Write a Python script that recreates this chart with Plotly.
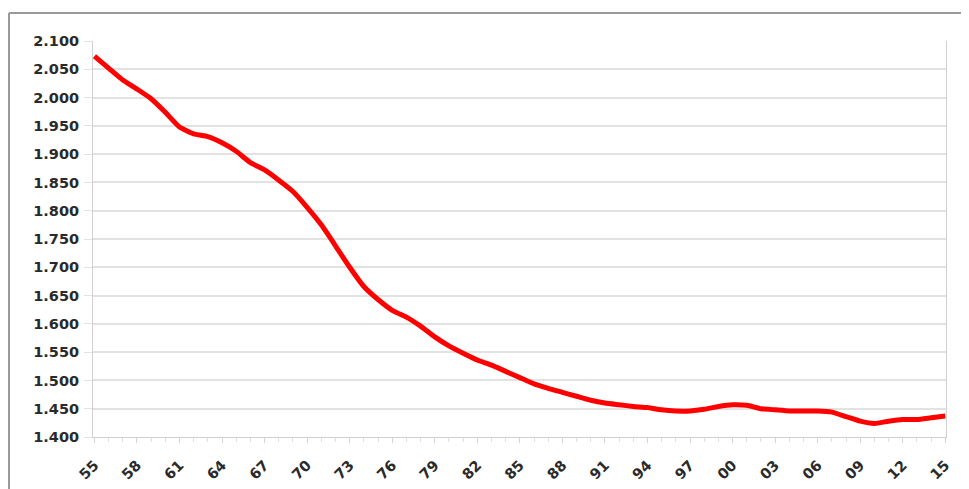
import plotly.graph_objects as go

years = list(range(1955, 2016))
values = [
    2.073, 2.052, 2.031, 2.015, 1.998, 1.974, 1.948, 1.936, 1.931, 1.920,
    1.905, 1.885, 1.872, 1.854, 1.834, 1.806, 1.775, 1.738, 1.700, 1.666,
    1.643, 1.624, 1.612, 1.596, 1.577, 1.561, 1.548, 1.536, 1.527, 1.516,
    1.505, 1.494, 1.486, 1.479, 1.472, 1.465, 1.460, 1.457, 1.454, 1.452,
    1.448, 1.446, 1.446, 1.449, 1.454, 1.457, 1.456, 1.450, 1.448, 1.446,
    1.446, 1.446, 1.444, 1.436, 1.428, 1.424, 1.428, 1.431, 1.431, 1.434,
    1.437,
]
x_tick_vals = list(range(1955, 2016, 3))
x_tick_text = ["55", "58", "61", "64", "67", "70", "73", "76", "79", "82", "85",
               "88", "91", "94", "97", "00", "03", "06", "09", "12", "15"]
y_tick_vals = [1.40 + 0.05 * i for i in range(15)]
y_tick_text = ["1.400", "1.450", "1.500", "1.550", "1.600", "1.650", "1.700", "1.750",
               "1.800", "1.850", "1.900", "1.950", "2.000", "2.050", "2.100"]

fig = go.Figure()
fig.add_trace(go.Scatter(
    x=years, y=values, mode="lines",
    line=dict(color="#ff0000", width=5, shape="spline", smoothing=0.5),
    showlegend=False, hoverinfo="skip",
))

W, H = 961, 481
L, R, T, B = 85, 23, 33, 52
pw, ph = W - L - R, H - T - B
tick_font = dict(family="DejaVu Sans, Liberation Sans, sans-serif", size=14.5,
                 color="#2a2a2a", weight="bold")

fig.update_layout(
    width=W, height=H,
    margin=dict(l=L, r=R, t=T, b=B, autoexpand=False),
    paper_bgcolor="white", plot_bgcolor="white",
    font=dict(family="DejaVu Sans, Liberation Sans, sans-serif", color="#2a2a2a"),
    xaxis=dict(
        range=[1954.9, 2015.05], automargin=False,
        tickmode="array", tickvals=x_tick_vals, ticktext=x_tick_text,
        tickangle=-45, tickfont=tick_font, ticklabelstandoff=8,
        ticks="outside", ticklen=5, tickcolor="#d4d4d4",
        minor=dict(dtick=1, ticks="outside", ticklen=4, tickcolor="#e0e0e0", showgrid=False),
        showgrid=False, showline=True, linecolor="#d0d0d0", linewidth=1,
        mirror=False, zeroline=False,
    ),
    yaxis=dict(
        range=[1.4, 2.1], automargin=False,
        tickmode="array", tickvals=y_tick_vals, ticktext=y_tick_text,
        tickfont=tick_font, ticklabelstandoff=2,
        showgrid=True, gridcolor="#e2e2e2", gridwidth=1.5,
        showline=True, linecolor="#d0d0d0", linewidth=1, mirror=True,
        ticks="outside", ticklen=8, tickcolor="#e2e2e2",
        zeroline=False,
    ),
    shapes=[
        dict(type="line", xref="paper", yref="paper",
             x0=(1 - L) / pw, x1=(W - L) / pw,
             y0=(H - B - 5) / ph, y1=(H - B - 5) / ph,
             line=dict(color="#9a9a9a", width=2)),
        dict(type="line", xref="paper", yref="paper",
             x0=(1 - L) / pw, x1=(1 - L) / pw,
             y0=(H - B - 5) / ph, y1=-B / ph,
             line=dict(color="#9a9a9a", width=2)),
    ],
)

fig.write_html("out.html")
